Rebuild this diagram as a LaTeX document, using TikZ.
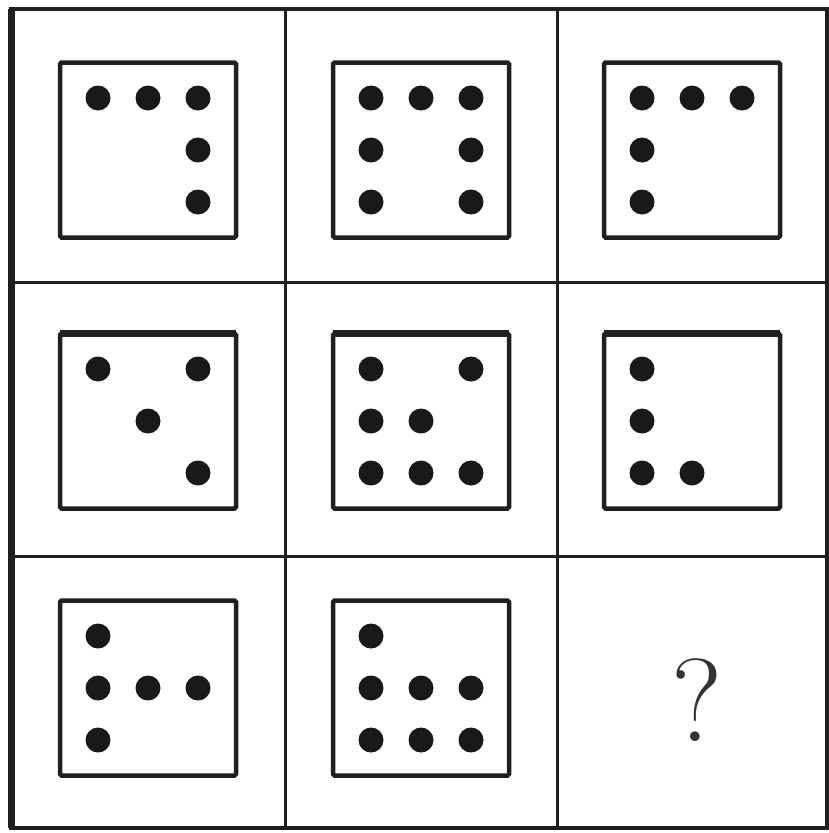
\documentclass[tikz,border=0pt]{standalone}
\usepackage{tikz}
\usetikzlibrary{calc}

\begin{document}
\begin{tikzpicture}[
    x=1pt, y=-1pt,
    frame/.style={line width=3.5pt, black!88},
    gridline/.style={line width=3pt, black!88},
    die/.style={draw=black!88, rectangle, rounded corners=1.5pt, line width=4.5pt,
                minimum width=176pt, minimum height=175pt, inner sep=0pt},
    pip/.style={circle, fill=black!90, minimum size=25pt, inner sep=0pt}
  ]
  \useasboundingbox (0,0) rectangle (829,833);

  % --- rejilla ---
  \draw[frame] (11,9) rectangle (827,828);
  \draw[line width=7pt, black!88] (11,9) -- (11,828);
  \foreach \gx in {285,557}
    \draw[gridline] (\gx,9) -- (\gx,828);
  \foreach \gy in {282,556}
    \draw[gridline] (11,\gy) -- (827,\gy);

  % --- dados ---
  \node[die] (d11) at (148,150) {};
  \node[die] (d12) at (421,150) {};
  \node[die] (d13) at (692,150) {};
  \node[die] (d21) at (148,421) {};
  \node[die] (d22) at (421,421) {};
  \node[die] (d23) at (692,421) {};
  \node[die] (d31) at (148,688) {};
  \node[die] (d32) at (421,688) {};
  \node[font=\fontsize{118}{118}\selectfont, text=black!80] (q) at (697,700) {?};

  % borde superior mas grueso en la fila central
  \foreach \d in {d21,d22,d23}
    \draw[line width=7.5pt, black!88] ($(\d.north west)+(2.5,2)$) -- ($(\d.north east)+(-2.5,2)$);

  % --- puntos ---
  \foreach \d/\pips in {
      d11/{0/0,1/0,2/0,2/1,2/2},
      d12/{0/0,1/0,2/0,0/1,2/1,0/2,2/2},
      d13/{0/0,1/0,2/0,0/1,0/2},
      d21/{0/0,2/0,1/1,2/2},
      d22/{0/0,2/0,0/1,1/1,0/2,1/2,2/2},
      d23/{0/0,0/1,0/2,1/2},
      d31/{0/0,0/1,1/1,2/1,0/2},
      d32/{0/0,0/1,1/1,2/1,0/2,1/2,2/2}}
    \foreach \i/\j in \pips
      \node[pip] at ($(\d)+(\i*50-50,\j*52-52)$) {};
\end{tikzpicture}
\end{document}
